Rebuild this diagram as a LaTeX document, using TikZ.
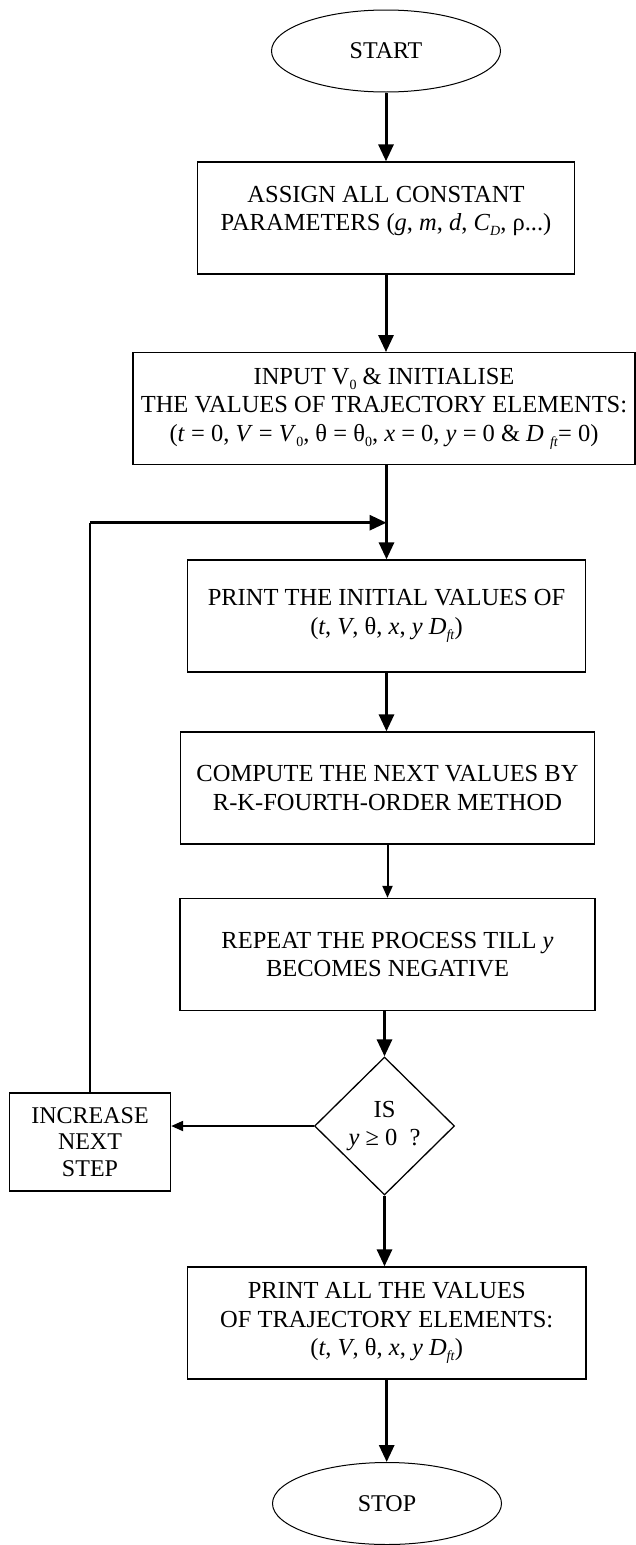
\documentclass[tikz,border=0pt]{standalone}
\usepackage{fontspec}
\setmainfont{Liberation Serif}
\usetikzlibrary{arrows.meta,shapes.geometric}
\newcommand\sbs[1]{\raisebox{-0.45ex}{\fontsize{14}{14}\selectfont #1}}
\newcommand\iv[1]{\textit{#1}}
\begin{document}
\begin{tikzpicture}[x=1pt,y=-1pt,
  every node/.style={font=\fontsize{24.5}{28.5}\selectfont},
  box/.style={draw, line width=1.3pt, rectangle, align=center, inner sep=0pt, minimum height=112pt},
  term/.style={draw, line width=1pt, ellipse, inner sep=0pt, minimum width=229pt, minimum height=82pt, font=\fontsize{24}{28}\selectfont},
  dec/.style={draw, line width=1.3pt, diamond, inner sep=0pt, minimum width=140pt, minimum height=138pt, align=center},
  thickarrow/.style={line width=3pt, -{Triangle[length=17pt,width=15pt]}},
  thinarrow/.style={line width=2pt, -{Triangle[length=12pt,width=10pt]}},
  thinline/.style={line width=1.8pt}
]
\useasboundingbox (0,0) rectangle (636,1545);

\node[term] (start) at (386,51) {START};
\node[box, minimum width=377pt] (assign) at (386,218) {};
\node[align=center, inner sep=0pt] (assigntext) at (386,211)
  {ASSIGN ALL CONSTANT\\PARAMETERS (\iv{g}, \iv{m}, \iv{d}, \iv{C}\sbs{\iv{D}}, ρ...)};
\node[box, minimum width=502pt] (input) at (384,408.7)
  {INPUT V\sbs{0} \& INITIALISE\\THE VALUES OF TRAJECTORY ELEMENTS:\\(\iv{t} = 0, \iv{V} = \iv{V}\sbs{0}, θ = θ\sbs{0}, \iv{x} = 0, \iv{y} = 0 \& \iv{D} \sbs{\iv{ft}}= 0)};
\node[box, minimum width=398pt] (print) at (386.5,616)
  {PRINT THE INITIAL VALUES OF\\(\iv{t}, \iv{V}, θ, \iv{x}, \iv{y} \iv{D}\sbs{\iv{ft}})};
\node[box, minimum width=414.5pt] (compute) at (387.5,788)
  {COMPUTE THE NEXT VALUES BY\\R-K-FOURTH-ORDER METHOD};
\node[box, minimum width=415pt] (repeat) at (387.5,954.5)
  {REPEAT THE PROCESS TILL \iv{y}\\BECOMES NEGATIVE};
\node[dec] (dec) at (384.5,1126) {IS\\\iv{y} ≥ 0 \ ?};
\node[box, minimum width=161pt, minimum height=98pt, font=\fontsize{24}{26.5}\selectfont] (inc) at (90,1142)
  {INCREASE\\NEXT\\STEP};
\node[box, minimum width=398.7pt] (final) at (386.7,1323)
  {PRINT ALL THE VALUES\\OF TRAJECTORY ELEMENTS:\\(\iv{t}, \iv{V}, θ, \iv{x}, \iv{y} \iv{D}\sbs{\iv{ft}})};
\node[term] (stop) at (387,1503.5) {STOP};

\coordinate (j) at (386.5,522.7);
\coordinate (corner) at (inc.north |- j);

\draw[thickarrow] (start.south) -- (start.south |- assign.north);
\draw[thickarrow] (assign.south) -- (assign.south |- input.north);
\draw[thickarrow] (input.south -| print.north) -- (print.north);
\draw[thickarrow] (print.south) -- (print.south |- compute.north);
\draw[thinarrow] (compute.south) -- (compute.south |- repeat.north);
\draw[thickarrow] (repeat.south -| dec.north) -- (dec.north);
\draw[thinarrow] (dec.west) -- (dec.west -| inc.east);
\draw[thickarrow] (dec.south) -- (dec.south |- final.north);
\draw[thickarrow] (final.south) -- (final.south |- stop.north);
\draw[thinline] (inc.north) -- (corner);
\draw[thickarrow] (corner) -- (j);
\end{tikzpicture}
\end{document}
